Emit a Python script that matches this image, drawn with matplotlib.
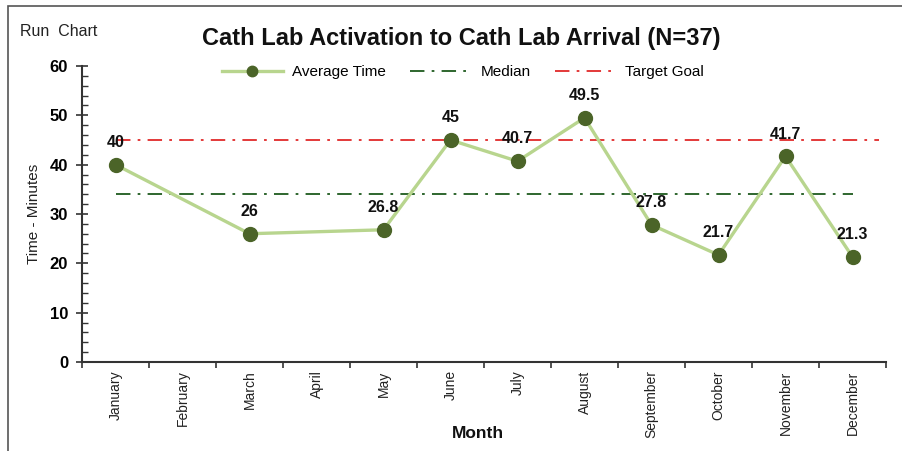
import numpy as np
import pandas as pd
import matplotlib
matplotlib.use("Agg")
import matplotlib.pyplot as plt
from matplotlib.patches import Rectangle
from matplotlib.ticker import MultipleLocator, FixedLocator, NullFormatter, FixedFormatter

plt.rcParams["font.family"] = ["Liberation Sans", "DejaVu Sans"]

# data
MONTHS = ["January", "February", "March", "April", "May", "June", "July",
          "August", "September", "October", "November", "December"]
AVG_TIME = [40, np.nan, 26, np.nan, 26.8, 45, 40.7, 49.5, 27.8, 21.7, 41.7, 21.3]
MEDIAN = 34
TARGET = 45

LINE_COLOR = "#b8d58e"
MARKER_COLOR = "#4b6428"
MEDIAN_COLOR = "#1e5a1e"
TARGET_COLOR = "#e02a2a"
AXIS_COLOR = "#333333"

series = pd.Series(AVG_TIME, index=range(len(MONTHS))).dropna()

fig = plt.figure(figsize=(9.02, 4.51), dpi=100)

# outer frame round the whole chart (cut off at right and bottom)
fig.patches.append(Rectangle((8 / 902, -0.1), 1.2, 1 - 6 / 451 + 0.1,
                             transform=fig.transFigure, fill=False,
                             edgecolor="#555555", linewidth=1.2))

ax = fig.add_axes([82 / 902, 1 - 362 / 451, 804 / 902, 296 / 451])

ax.plot(series.index, series.values, "-", color=LINE_COLOR, linewidth=2.4,
        marker="o", markersize=10, markerfacecolor=MARKER_COLOR,
        markeredgecolor=MARKER_COLOR, label="Average Time", zorder=3)

first, last = 0, len(MONTHS) - 1
dashdot = (0, (8, 4, 1.5, 4))
ax.plot([first, last], [MEDIAN, MEDIAN], color=MEDIAN_COLOR,
        linestyle=dashdot, linewidth=1.3, label="Median", zorder=2)
ax.plot([first, last + 0.4], [TARGET, TARGET], color=TARGET_COLOR,
        linestyle=dashdot, linewidth=1.3, label="Target Goal", zorder=2)

for x, v in series.items():
    ax.annotate("{0:g}".format(v), (x, v), xytext=(0, 16),
                textcoords="offset points", ha="center", va="center",
                fontsize=11.5, fontweight="bold", color="#111111", zorder=4)

ax.set_xlim(-0.5, len(MONTHS) - 0.5)
ax.set_ylim(0, 60)

# category boundaries carry the tick marks, labels sit in between
ax.xaxis.set_major_locator(FixedLocator(np.arange(-0.5, len(MONTHS), 1.0)))
ax.xaxis.set_major_formatter(NullFormatter())
ax.xaxis.set_minor_locator(FixedLocator(np.arange(len(MONTHS))))
ax.xaxis.set_minor_formatter(FixedFormatter(MONTHS))
ax.tick_params(axis="x", which="major", direction="out", length=4,
               width=1.2, color=AXIS_COLOR)
ax.tick_params(axis="x", which="minor", length=0, labelrotation=90,
               labelsize=10, pad=6, labelcolor="#222222")

ax.yaxis.set_major_locator(MultipleLocator(10))
ax.yaxis.set_minor_locator(MultipleLocator(2))
ax.tick_params(axis="y", which="major", direction="inout", length=8,
               width=1.2, color=AXIS_COLOR, labelsize=12, pad=6)
ax.tick_params(axis="y", which="minor", direction="in", length=4,
               width=1, color=AXIS_COLOR)
for lab in ax.get_yticklabels():
    lab.set_fontweight("bold")

for side in ("top", "right"):
    ax.spines[side].set_visible(False)
for side in ("left", "bottom"):
    ax.spines[side].set_color(AXIS_COLOR)
    ax.spines[side].set_linewidth(1.5)

ax.set_ylabel("Time - Minutes", fontsize=11, color="#222222", labelpad=6)
fig.text(478 / 902, 1 - 434 / 451, "Month", ha="center", va="center",
         fontsize=12.5, fontweight="bold", color="#111111")

fig.text(20 / 902, 1 - 31 / 451, "Run  Chart", ha="left", va="center",
         fontsize=11.5, color="#222222")
fig.text(461 / 902, 1 - 38 / 451,
         "Cath Lab Activation to Cath Lab Arrival (N=37)",
         ha="center", va="center", fontsize=17, fontweight="bold",
         color="#111111")

fig.legend(loc="center", bbox_to_anchor=(463 / 902, 1 - 72 / 451), ncol=3,
           frameon=False, fontsize=11, handlelength=4, columnspacing=1.6,
           handletextpad=0.6, markerscale=0.75)

fig.savefig("out.png", dpi=100)
